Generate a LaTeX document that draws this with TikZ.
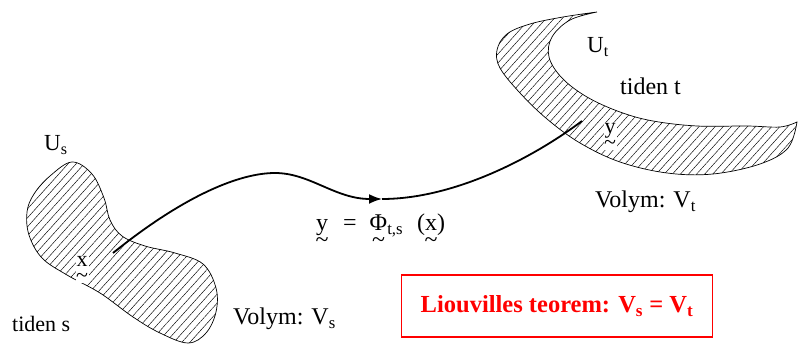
\documentclass[tikz,border=0pt]{standalone}
\usepackage{amsmath}
\usepackage{graphicx}
\usepackage{fontspec}
\setmainfont{Liberation Serif}
\usetikzlibrary{patterns.meta,arrows.meta}

\newcommand{\tvec}[1]{\ooalign{#1\cr\hidewidth\raisebox{-0.7em}{\textasciitilde}\hidewidth\cr}}

\begin{document}
\begin{tikzpicture}[
  x=1pt, y=-1pt,
  region/.style={draw, line width=0.7pt,
                 pattern={Lines[angle=48, distance=6pt, line width=0.45pt]}},
  flow/.style={line width=1.8pt},
  txt/.style={anchor=base west, inner sep=0pt, font=\fontsize{24}{28}\selectfont},
  pt/.style={anchor=base, inner sep=1pt, fill=white, font=\fontsize{22}{26}\selectfont},
  theorem/.style={draw=red, line width=1.8pt, text=red, minimum width=311pt,
                  minimum height=62pt, font=\fontsize{24.5}{28}\selectfont\bfseries}
]
  \useasboundingbox (0,0) rectangle (798,347);

  % R\'egion U_s (tiden s)
  \draw[region] plot[smooth cycle, tension=0.6] coordinates {
    (72,162) (92,174) (104,198) (110,220) (122,236) (145,246) (175,253)
    (203,264) (216,288) (216,312) (206,333) (188,343) (160,333) (133,317)
    (100,293) (67,275) (42,258) (29,235) (27,212) (34,194) (50,176)};

  % R\'egion U_t (tiden t)
  \draw[region] plot[smooth, tension=0.6] coordinates {
    (597,12) (563,17) (530,24) (507,34) (497,50) (500,68) (520,93)
    (547,119) (580,143) (620,162) (667,173) (713,174) (760,164) (788,148)
    (797,122)}
    -- plot[smooth, tension=0.6] coordinates {
    (797,122) (780,127) (747,126) (697,126) (653,121) (620,112) (587,97)
    (562,78) (549,57) (552,37) (570,20) (597,12)} -- cycle;

  % Points
  \node[pt] (x) at (82,267) {\tvec{x}};
  \node[pt] (y) at (610,134) {\tvec{y}};

  % Trajectoire
  \coordinate (start) at (113,253);
  \coordinate (half) at (382,199);
  \coordinate (stop) at (582,121);
  \draw[flow, -{Latex[length=13pt, width=10pt]}] (start)
    .. controls (185,195) and (240,173) .. (275,173)
    .. controls (310,173) and (335,199) .. (half);
  \draw[flow] (half) .. controls (452,199) and (530,160) .. (stop);

  % Textes
  \node[txt, font=\fontsize{23}{27}\selectfont] (us) at (44,151) {U$_{\text{s}}$};
  \node[txt, font=\fontsize{22}{26}\selectfont] (ts) at (12,332) {tiden s};
  \node[txt] (vs) at (233,325) {Volym: V$_{\text{s}}$};
  \node[txt, font=\fontsize{23}{27}\selectfont] (ut) at (587,53) {U$_{\text{t}}$};
  \node[txt] (tt) at (620,95) {tiden t};
  \node[txt] (vt) at (595,208) {Volym: V$_{\text{t}}$};
  \node[txt] (phi) at (316,231)
    {\tvec{y}\hspace{15pt}=\hspace{13pt}\tvec{Φ}$_{\text{t,s}}$\hspace{14pt}(\tvec{x})};

  \node[theorem] (lt) at (557,306)
    {Liouvilles teorem: V$_{\text{s}}$ = V$_{\text{t}}$};
\end{tikzpicture}
\end{document}
